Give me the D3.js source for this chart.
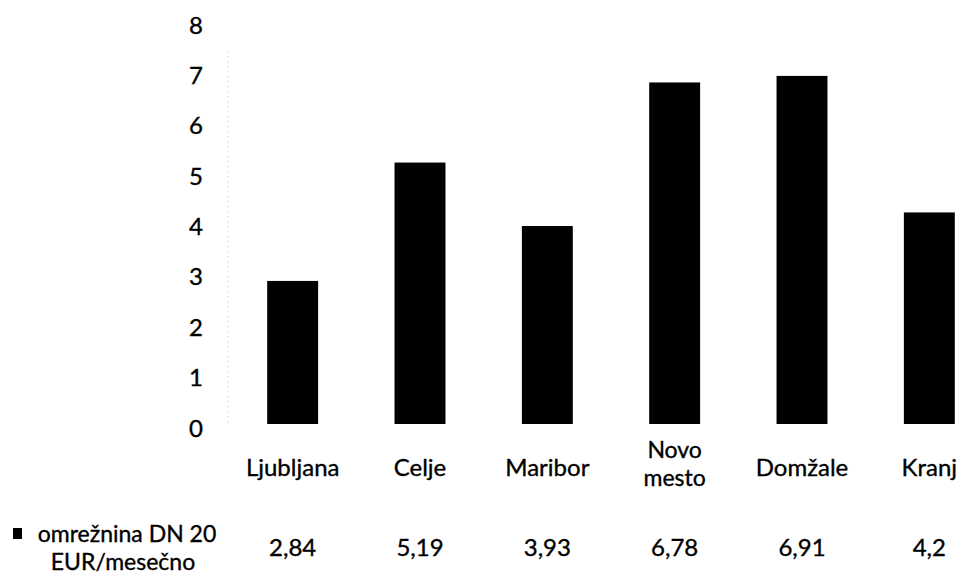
<!DOCTYPE html>
<html><head><meta charset="utf-8">
<script src="https://cdn.jsdelivr.net/npm/d3@7"></script>
<style>body{margin:0;background:#fff}svg text{font-family:Lato,"Open Sans",sans-serif;fill:#000;stroke:#000;stroke-width:0.35px}</style>
</head><body><svg id="c" width="961" height="577"></svg>
<script>
const categories = ["Ljubljana","Celje","Maribor","Novo mesto","Domžale","Kranj"];
const values = [2.84,5.19,3.93,6.78,6.91,4.2];
const yTicks = [0,1,2,3,4,5,6,7,8];
const seriesName = ["omrežnina DN 20","EUR/mesečno"];

const svg = d3.select("#c");
const x = d3.scaleBand().domain(categories).range([229,993]).paddingInner(0.6).paddingOuter(0.3);
const y = d3.scaleLinear().domain([0,8]).range([424,21]);
const fmt = v => String(v).replace(".", ",");

// faint dotted axis line (scan trace)
svg.append("line").attr("x1",228).attr("x2",228).attr("y1",y(7.4)).attr("y2",y(0))
  .attr("stroke","#bbb").attr("stroke-width",1).attr("stroke-dasharray","1,4");

// y axis labels via d3 axis
const yAxis = svg.append("g").attr("transform","translate(213,0)")
  .call(d3.axisLeft(y).tickValues(yTicks).tickSize(0).tickPadding(10).tickFormat(d3.format("d")));
yAxis.select(".domain").remove();
yAxis.selectAll("text").style("font-size","24px").attr("dy","0.5em").style("font-family","Lato").attr("fill","#000");

// bars
svg.append("g").selectAll("rect").data(categories).join("rect")
  .attr("x", d => x(d)).attr("width", x.bandwidth())
  .attr("y", (d,i) => y(values[i])).attr("height", (d,i) => y(0) - y(values[i]))
  .attr("fill","#000");

// category labels
const cx = d => x(d) + x.bandwidth()/2;
const cl = svg.append("g").attr("text-anchor","middle");
categories.forEach(c => {
  if (c === "Novo mesto") {
    cl.append("text").attr("x", cx(c)).attr("y", 458).style("font-size","23px").text("Novo");
    cl.append("text").attr("x", cx(c)).attr("y", 486).style("font-size","23px").text("mesto");
  } else {
    cl.append("text").attr("x", cx(c)).attr("y", 476).style("font-size","24px").text(c);
  }
});

// data table row
const tr = svg.append("g").style("font-size","24px").attr("text-anchor","middle");
categories.forEach((c,i) => tr.append("text").attr("x", cx(c)).attr("y", 556).text(fmt(values[i])));

// legend key + series name
svg.append("rect").attr("x",13).attr("y",528).attr("width",9).attr("height",11).attr("fill","#000");
svg.append("text").attr("x",127).attr("y",542).attr("text-anchor","middle").style("font-size","23px").text(seriesName[0]);
svg.append("text").attr("x",123).attr("y",570).attr("text-anchor","middle").style("font-size","23px").text(seriesName[1]);
</script></body></html>
